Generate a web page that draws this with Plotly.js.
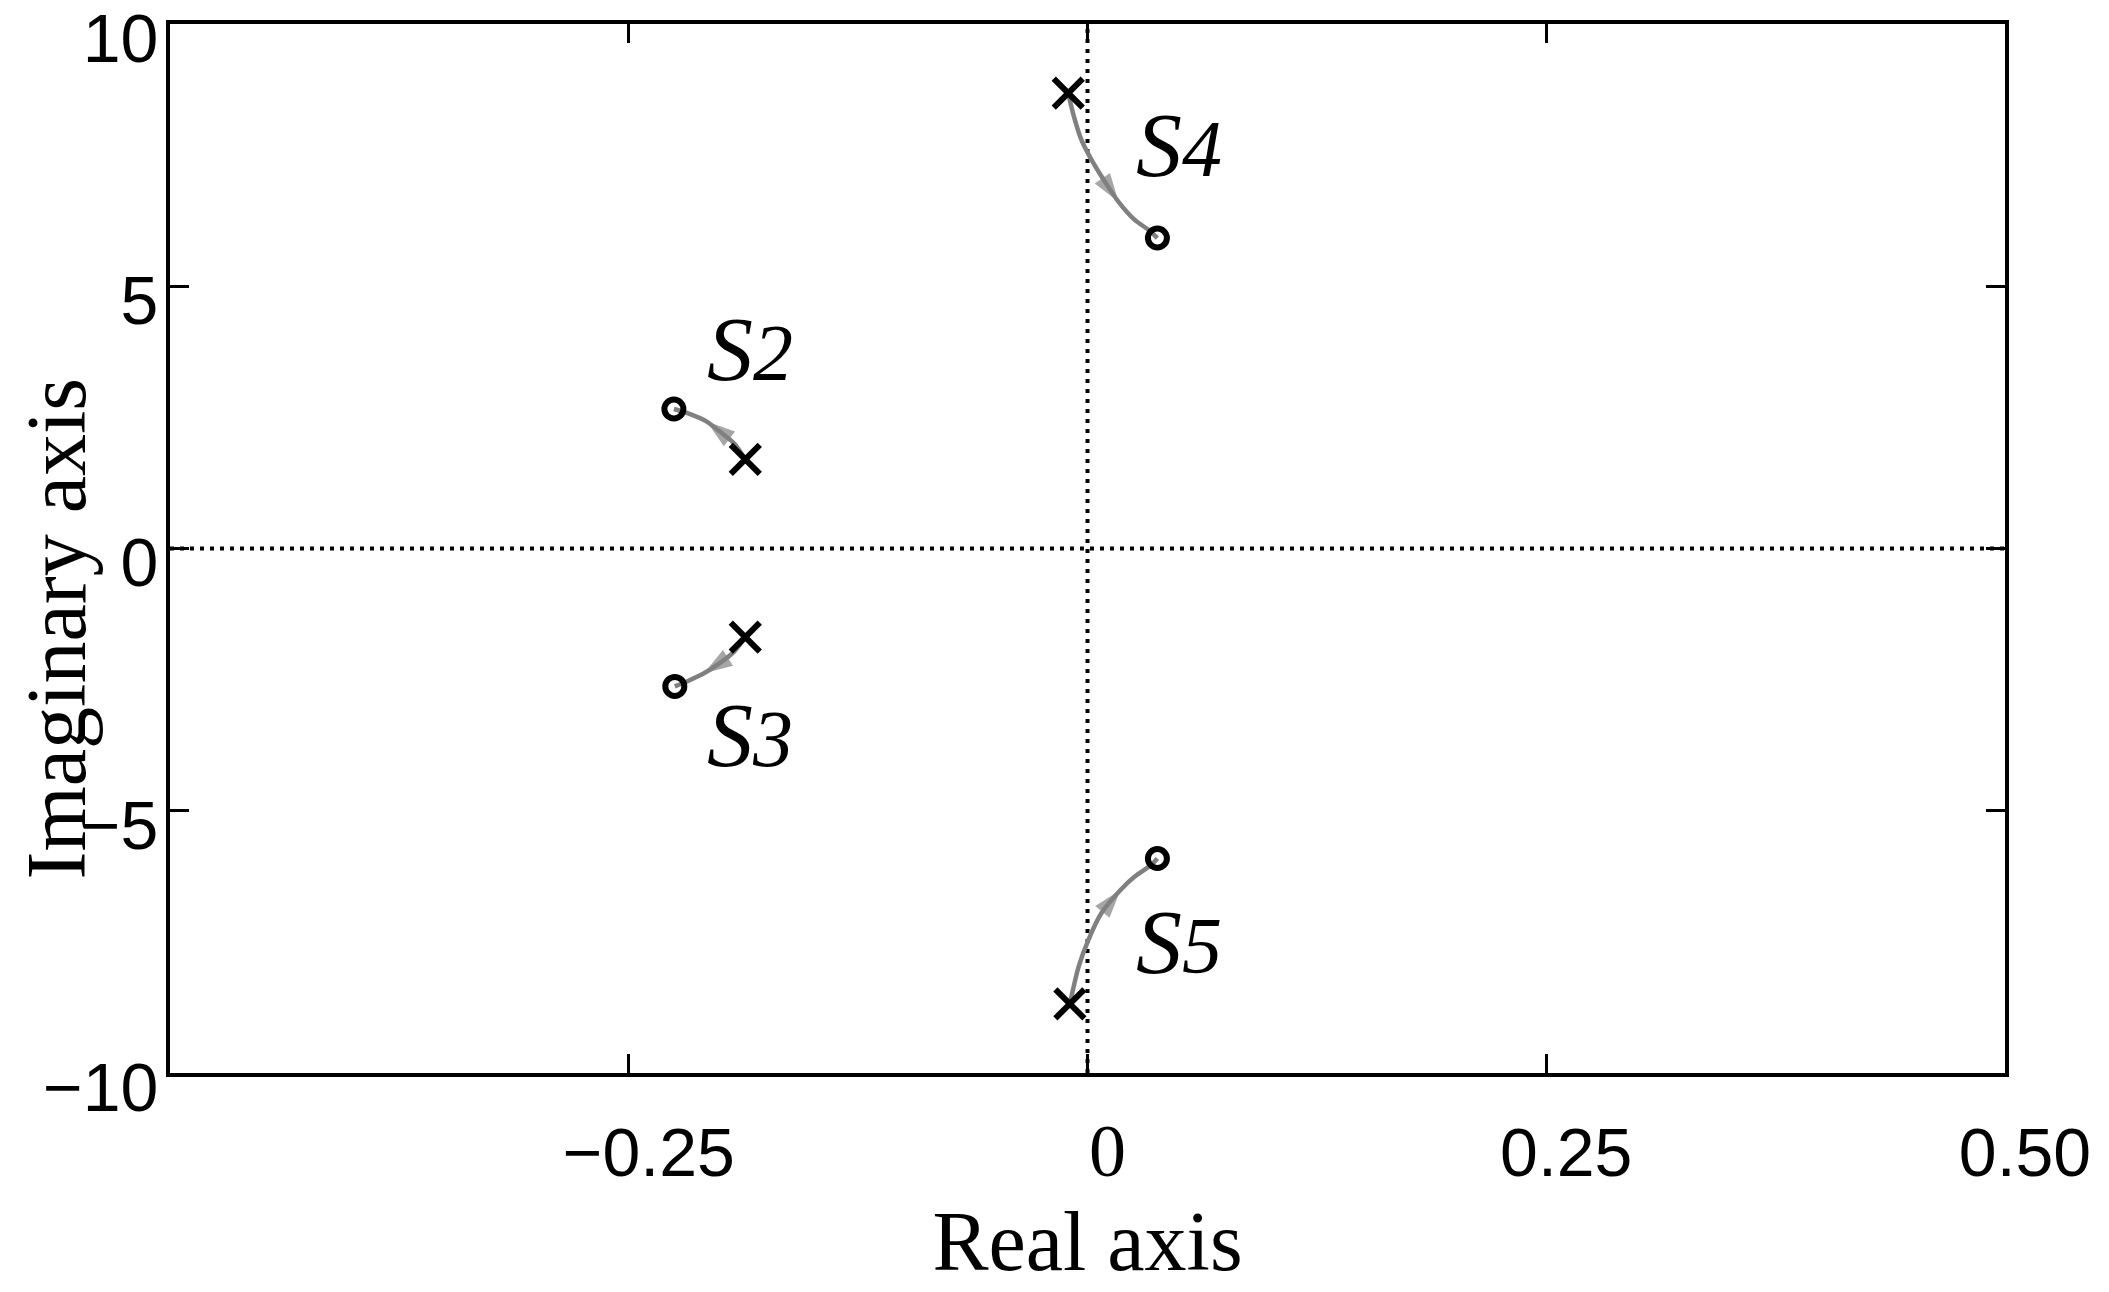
<!DOCTYPE html>
<html>
<head>
<meta charset="utf-8">
<script src="https://cdn.plot.ly/plotly-3.0.1.min.js"></script>
<style>html,body{margin:0;padding:0;background:#fff;}</style>
</head>
<body>
<div id="chart" style="width:2109px;height:1292px;"></div>
<script>
// ---- data ----
const lociNames = ["S2", "S3", "S4", "S5"];
const s2X = [-0.1865, -0.1925, -0.2000, -0.2075, -0.2180, -0.2254];
const s2Y = [1.70, 2.00, 2.22, 2.42, 2.58, 2.66];
const s3X = [-0.1865, -0.1930, -0.2010, -0.2090, -0.2180, -0.2249];
const s3Y = [-1.69, -1.98, -2.20, -2.38, -2.53, -2.63];
const s4X = [-0.0105, -0.0075, -0.0033, 0.0022, 0.0114, 0.0169, 0.0256, 0.0330, 0.0381];
const s4Y = [8.68, 8.25, 7.79, 7.41, 6.89, 6.61, 6.27, 6.08, 5.92];
const s5X = [-0.0096, -0.0049, 0.0005, 0.0076, 0.0180, 0.0256, 0.0348, 0.0381];
const s5Y = [-8.68, -7.98, -7.46, -6.95, -6.51, -6.26, -6.03, -5.91];
const arrowIdx = [3, 3, 5, 4];           // index of the arrow tip on each locus
const polesX = [-0.1865, -0.1865, -0.0105, -0.0096];
const polesY = [1.70, -1.69, 8.68, -8.68];
const zerosX = [-0.2254, -0.2249, 0.0381, 0.0381];
const zerosY = [2.66, -2.63, 5.92, -5.91];
const labelX = [-0.184, -0.184, 0.050, 0.050];
const labelY = [3.80, -3.56, 7.70, -7.50];
const xTickVals = [-0.25, 0, 0.25, 0.5];
const xTickText = ["\u22120.25", "<span style=\"font-family:'Liberation Serif';font-size:74px\">0</span>", "0.25", "0.50"];
const yTickVals = [-10, -5, 0, 5, 10];
const yTickText = ["\u221210", "\u22125", "0", "5", "10"];
const xRange = [-0.5, 0.5];
const yRange = [-10, 10];

// ---- traces ----
const lociX = [s2X, s3X, s4X, s5X];
const lociY = [s2Y, s3Y, s4Y, s5Y];
const gray = "#808080";
const traces = [];

// dotted axes through origin
traces.push({x: [0, 0], y: yRange, mode: "lines", line: {color: "#000", width: 4, dash: "4px,6px"}, hoverinfo: "skip", showlegend: false});
traces.push({x: xRange, y: [0, 0], mode: "lines", line: {color: "#000", width: 4, dash: "4px,6px"}, hoverinfo: "skip", showlegend: false});

// loci curves
for (let i = 0; i < lociX.length; i++) {
  traces.push({x: lociX[i], y: lociY[i], mode: "lines", name: lociNames[i],
    line: {color: gray, width: 4.5, shape: "spline", smoothing: 0.8}, showlegend: false});
}

// arrowheads (tail = previous point, tip = arrow point)
const ax = [], ay = [], as = [];
for (let i = 0; i < lociX.length; i++) {
  const k = arrowIdx[i];
  ax.push(lociX[i][k - 1], lociX[i][k]);
  ay.push(lociY[i][k - 1], lociY[i][k]);
  as.push(0, 30);
}
traces.push({x: ax, y: ay, mode: "markers", hoverinfo: "skip", showlegend: false,
  marker: {symbol: "arrow", size: as, color: gray, angleref: "previous", line: {width: 0}}});

// poles (x) and zeros (o)
traces.push({x: polesX, y: polesY, mode: "markers", showlegend: false,
  marker: {symbol: "x-thin-open", size: 29, color: "#000", line: {color: "#000", width: 6}}});
traces.push({x: zerosX, y: zerosY, mode: "markers", showlegend: false,
  marker: {symbol: "circle-open", size: 19, color: "#000", line: {color: "#000", width: 6}}});

// labels
const annotations = [];
for (let i = 0; i < lociNames.length; i++) {
  const nm = lociNames[i];
  annotations.push({x: labelX[i], y: labelY[i], xref: "x", yref: "y", showarrow: false,
    text: "<i>" + nm.charAt(0) + "<span style=\"font-size:80px\">" + nm.slice(1) + "</span></i>",
    font: {family: "Liberation Serif", size: 92, color: "#000"}});
}
// y-axis title
annotations.push({text: "Imaginary axis", xref: "paper", yref: "paper", x: 0, y: 0.5,
  xanchor: "center", yanchor: "middle", xshift: -114, yshift: -80, textangle: -90, showarrow: false,
  font: {family: "Liberation Serif", size: 84, color: "#000"}});

const axisCommon = {
  showgrid: false, zeroline: false, showline: true, linecolor: "#000", linewidth: 4,
  mirror: "ticks", ticks: "inside", ticklen: 19, tickwidth: 3, tickcolor: "#000",
  ticklabeloverflow: "allow",
  tickfont: {family: "Liberation Sans", size: 68, color: "#000"}
};

const layout = {
  width: 2109, height: 1292,
  margin: {l: 170, r: 104, t: 24, b: 219},
  paper_bgcolor: "#fff", plot_bgcolor: "#fff",
  showlegend: false,
  xaxis: Object.assign({}, axisCommon, {
    range: xRange, tickmode: "array", tickvals: xTickVals, ticktext: xTickText,
    ticklabelstandoff: 17, ticklabelshift: 20,
    title: {text: "Real axis", font: {family: "Liberation Serif", size: 84, color: "#000"}, standoff: 22}
  }),
  yaxis: Object.assign({}, axisCommon, {
    range: yRange, tickmode: "array", tickvals: yTickVals, ticktext: yTickText,
    ticklabelstandoff: -6, ticklabelshift: 14
  }),
  annotations: annotations
};

Plotly.newPlot("chart", traces, layout, {displayModeBar: false, staticPlot: true});
</script>
</body>
</html>
